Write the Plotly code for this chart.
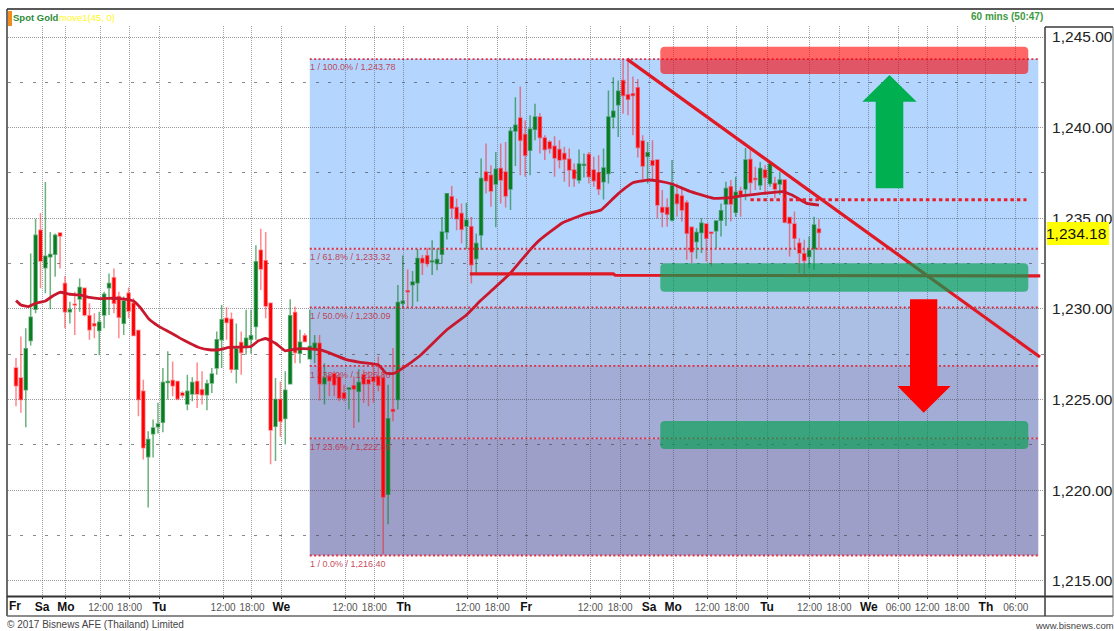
import plotly.graph_objects as go

direction = list("rrgggrgggr" "rgrgrrrggg" "rrgrrrrggg" "ggrrrggrrg" "gggrrgrggg"
                 "rrrgrggrgr" "ggrgrrrrgr" "grrrrrgrgg" "rggrrggggr" "rrgrggrrgr"
                 "rggrrggrrr" "rrrrrggrrr" "ggggrrrrrg" "rrrrgrrrrg" "grrgggrgrg"
                 "rrgrgrgrrr" "rrggr")
body_top = [1226.74,1226.19,1227.80,1229.54,1234.07,1234.34,1232.91,1233.00,1234.07,1234.19,
 1231.41,1229.95,1230.26,1231.19,1231.14,1229.63,1229.18,1229.27,1230.81,1231.41,
 1231.72,1230.68,1230.44,1230.86,1230.31,1228.81,1225.46,1222.80,1223.44,1223.66,
 1225.95,1226.00,1226.06,1226.00,1225.37,1225.46,1225.95,1226.00,1225.55,1225.88,
 1226.41,1228.30,1229.40,1229.49,1229.43,1227.80,1228.15,1228.39,1228.52,1232.60,
 1233.24,1232.66,1230.31,1225.00,1225.00,1225.51,1229.63,1229.80,1228.17,1228.52,
 1227.93,1228.11,1228.11,1226.19,1226.28,1226.43,1226.25,1225.37,1225.64,1225.77,
 1225.95,1226.37,1226.10,1226.25,1226.28,1226.19,1223.94,1224.45,1230.35,1230.42,
 1231.00,1231.48,1232.78,1232.78,1232.93,1232.64,1232.73,1234.25,1236.36,1236.19,
 1235.59,1235.26,1234.89,1234.54,1233.61,1237.20,1237.56,1237.38,1237.71,1237.75,
 1237.56,1239.80,1240.13,1240.53,1239.62,1239.91,1240.59,1240.59,1239.43,1239.21,
 1238.97,1238.79,1238.57,1238.26,1237.66,1237.99,1237.97,1238.52,1237.66,1237.51,
 1237.78,1240.59,1240.90,1242.01,1242.60,1241.81,1241.87,1242.20,1239.27,1238.61,
 1238.17,1238.21,1235.59,1235.59,1236.79,1236.32,1236.23,1235.86,1234.51,1234.21,
 1234.73,1234.69,1234.23,1234.85,1235.42,1236.65,1236.74,1236.43,1236.50,1238.21,
 1238.24,1237.20,1237.75,1237.66,1237.99,1236.92,1237.11,1237.11,1235.05,1234.69,
 1233.63,1233.04,1233.22,1234.63,1234.41]
body_bottom = [1225.77,1225.00,1225.55,1228.26,1229.98,1232.64,1232.27,1232.88,1233.02,1234.03,
 1229.85,1229.85,1230.22,1230.55,1229.67,1228.85,1229.08,1228.81,1229.67,1231.17,
 1230.31,1229.54,1229.21,1229.89,1228.53,1225.00,1222.34,1221.85,1223.11,1223.50,
 1223.75,1225.95,1225.77,1225.04,1225.24,1224.76,1225.31,1225.31,1225.27,1225.27,
 1225.92,1226.74,1228.30,1229.25,1226.68,1226.68,1227.60,1227.93,1228.33,1229.03,
 1232.20,1230.16,1223.32,1223.53,1223.81,1223.96,1225.88,1227.60,1227.56,1228.20,
 1227.25,1227.84,1225.88,1225.88,1226.04,1225.82,1225.09,1225.07,1225.59,1225.59,
 1225.46,1225.86,1225.88,1226.01,1225.79,1219.63,1219.78,1224.36,1225.00,1230.31,
 1230.95,1231.34,1231.45,1232.55,1232.51,1232.60,1232.51,1233.02,1234.25,1235.55,
 1234.98,1234.40,1234.58,1232.44,1232.78,1234.08,1237.07,1236.50,1236.89,1237.11,
 1236.23,1236.61,1239.82,1239.30,1238.48,1238.75,1239.91,1239.45,1238.79,1238.85,
 1238.33,1238.21,1238.26,1237.66,1237.20,1237.11,1237.93,1237.29,1237.07,1236.61,
 1237.01,1237.47,1240.59,1241.26,1241.78,1241.56,1241.78,1238.90,1237.89,1238.42,
 1237.93,1235.73,1235.33,1235.22,1234.91,1235.82,1235.46,1234.18,1233.15,1233.72,
 1234.21,1233.90,1234.18,1234.32,1234.89,1235.79,1235.79,1235.33,1236.28,1236.61,
 1236.98,1237.14,1236.83,1237.25,1236.92,1236.61,1236.89,1234.78,1234.73,1233.90,
 1233.08,1232.67,1232.89,1233.32,1234.21]
highs = [1227.29,1228.48,1228.94,1233.06,1234.98,1235.29,1237.00,1234.25,1234.16,1234.20,
 1231.81,1230.40,1230.95,1231.68,1231.14,1230.31,1229.76,1229.85,1230.95,1231.96,
 1232.23,1230.95,1230.68,1231.19,1230.59,1228.85,1226.10,1223.26,1223.90,1224.82,
 1226.74,1227.66,1227.10,1226.00,1225.46,1226.37,1226.23,1227.05,1226.56,1226.10,
 1226.74,1228.75,1230.22,1230.09,1229.80,1229.20,1228.75,1229.95,1229.95,1233.52,
 1234.43,1234.25,1230.31,1226.19,1226.00,1226.56,1230.53,1230.13,1228.85,1228.66,
 1229.95,1228.57,1228.57,1227.01,1226.37,1226.56,1226.43,1225.82,1225.64,1226.28,
 1226.68,1226.65,1226.56,1227.01,1227.38,1226.74,1225.82,1227.84,1231.32,1232.95,
 1232.18,1232.10,1233.30,1232.97,1233.37,1233.79,1233.33,1235.07,1236.36,1236.78,
 1236.08,1235.81,1235.86,1235.07,1234.16,1238.30,1239.12,1237.93,1238.66,1239.12,
 1239.21,1240.04,1241.68,1242.27,1240.40,1240.68,1241.32,1240.81,1239.58,1239.30,
 1239.52,1239.30,1238.94,1238.85,1238.02,1238.79,1238.57,1238.66,1238.39,1238.48,
 1238.85,1242.05,1242.78,1242.60,1243.78,1243.78,1242.82,1242.69,1239.58,1239.21,
 1239.30,1238.21,1236.56,1236.10,1238.21,1236.92,1236.74,1236.00,1234.54,1234.45,
 1235.00,1234.73,1234.27,1234.89,1235.82,1237.01,1237.11,1237.29,1236.74,1238.88,
 1238.75,1237.84,1238.11,1237.93,1238.15,1237.29,1237.56,1237.11,1235.09,1235.37,
 1233.90,1233.81,1233.99,1235.09,1234.95]
lows = [1224.63,1224.27,1223.48,1227.99,1229.76,1231.14,1230.86,1229.98,1231.78,1232.23,
 1228.94,1229.20,1228.57,1229.85,1229.58,1228.30,1228.39,1227.44,1228.94,1229.67,
 1229.76,1228.39,1228.57,1229.49,1228.50,1224.08,1221.70,1219.05,1221.80,1223.13,
 1223.20,1225.00,1225.18,1224.96,1225.09,1224.41,1224.91,1224.54,1224.73,1224.41,
 1225.37,1226.37,1226.74,1228.30,1226.47,1225.90,1226.37,1227.47,1227.53,1228.30,
 1231.04,1229.49,1221.43,1221.61,1222.95,1222.53,1225.88,1227.01,1227.01,1228.20,
 1227.25,1227.01,1224.95,1224.73,1225.18,1225.18,1224.91,1224.91,1224.45,1223.44,
 1223.75,1224.82,1224.63,1224.82,1225.46,1216.48,1218.13,1223.81,1224.45,1230.04,
 1230.04,1230.13,1230.40,1231.87,1232.33,1231.87,1232.14,1232.51,1233.83,1235.00,
 1234.34,1233.61,1233.30,1231.41,1231.96,1233.26,1236.37,1235.64,1234.50,1235.82,
 1235.59,1235.46,1237.89,1237.38,1237.29,1237.38,1239.30,1238.57,1238.21,1238.57,
 1237.29,1237.75,1237.01,1236.74,1236.74,1236.92,1237.25,1236.92,1236.74,1236.28,
 1236.04,1236.92,1239.95,1239.49,1240.77,1240.68,1239.58,1238.35,1237.11,1236.92,
 1237.11,1235.00,1234.51,1234.54,1234.82,1235.09,1234.82,1232.71,1232.53,1232.77,
 1233.08,1232.62,1232.34,1233.35,1233.99,1234.58,1234.82,1235.09,1235.09,1236.00,
 1236.37,1236.56,1236.56,1236.37,1236.74,1236.10,1236.28,1234.73,1232.89,1233.35,
 1231.98,1231.89,1232.25,1232.16,1233.26]

ma_bar = [0,1,2.5,4,6,7.5,9,11,13,15,17,20,22.5,24,25.5,27,29,31.5,33.5,35.5,37.5,39.5,41.5,43.5,48,49.5,
 51,53,55,57.5,60,62,65,67.5,70,74,75.5,77,79,82.5,88,92,95,97.5,101,105,107,111.5,116,119.5,122,123.5,
 126,129,131,134,137.5,142.5,146,148.5,152.5,156.5,158.5,161.5,164]
ma_value = [1230.46,1230.22,1230.13,1230.31,1230.44,1230.71,1230.92,1230.81,1230.77,1230.64,1230.57,1230.59,
 1230.53,1230.44,1230.04,1229.49,1229.07,1228.70,1228.39,1228.11,1227.86,1227.75,1227.75,1227.88,1227.93,
 1228.24,1228.37,1228.11,1227.69,1227.80,1227.80,1227.75,1227.47,1227.20,1227.07,1226.92,1226.47,1226.43,
 1226.74,1227.42,1228.85,1229.67,1230.49,1231.10,1231.98,1233.26,1233.81,1234.73,1235.22,1235.46,1236.10,
 1236.47,1236.96,1237.11,1237.07,1236.89,1236.50,1236.10,1236.14,1236.25,1236.37,1236.47,1236.28,1235.82,1235.73]

fib_prices = [1243.78, 1233.32, 1230.09, 1226.86, 1222.86, 1216.40]
fib_labels = ["1 / 100.0% / 1,243.78", "1 / 61.8% / 1,233.32", "1 / 50.0% / 1,230.09",
              "1 / 38.2% / 1,226.86", "1 / 23.6% / 1,222.86", "1 / 0.0% / 1,216.40"]
fib_fills = ["#B4D6FE", "#B5CDF0", "#AABFE3", "#A3ACD5", "#9E9FC8"]
fib_start_bar, fib_end_bar = 60.0, 208.8

trend_bar = [124.8, 209.15]
trend_price = [1243.78, 1227.35]
support_bar = [92.7, 122, 122.4, 209.2]
support_price = [1231.93, 1231.93, 1231.86, 1231.82]
resist_bar = [150, 206.4]
resist_price = [1236.02, 1236.02]

zone_bars = (131.6, 206.76)
zones = [(1244.46, 1242.96, "rgba(255,0,0,0.6)"),
         (1232.52, 1230.95, "rgba(0,160,80,0.65)"),
         (1223.82, 1222.27, "rgba(0,160,80,0.65)")]

DAY = '<span style="font-size:12px;color:#111111"><b>%s</b></span>'
grid_bars = [5.33, 10.2, 17.3, 23.2, 29.3, 42.3, 48.2, 54.2, 67.2, 73.2, 79.2, 92.3, 98.3, 104.2,
             117.3, 123.4, 129.3, 134.2, 141.2, 147.2, 153.4, 162.1, 168.1, 174.2, 180.2, 186.1, 192.2, 198.1, 204.2]
grid_labels = [DAY % "Sa", DAY % "Mo", "12:00", "18:00", DAY % "Tu", "12:00", "18:00", DAY % "We",
               "12:00", "18:00", DAY % "Th", "12:00", "18:00", DAY % "Fr", "12:00", "18:00", DAY % "Sa",
               DAY % "Mo", "12:00", "18:00", DAY % "Tu", "12:00", "18:00", DAY % "We", "06:00", "12:00",
               "18:00", DAY % "Th", "06:00"]
price_ticks = [1215, 1220, 1225, 1230, 1235, 1240, 1245]
minor_ticks = [1217.5, 1222.5, 1227.5, 1232.5, 1237.5, 1242.5]
last_price = "1,234.18"

# Page geometry of the chart panel
L, R, T, B = 8, 1044, 26, 596
W, H = 1114, 631
BAR_PX, BAR0_PX = 4.896, 16.0
PX_PRICE, PRICE_AT_T = 18.13, 1245 + (37 - 26) / 18.13


def fx(px):
    return (px - L) / (R - L)


def fy(py):
    return (B - py) / (B - T)


def bar_at(px):
    return (px - BAR0_PX) / BAR_PX


def price_at(py):
    return PRICE_AT_T - (py - T) / PX_PRICE


ix = list(range(len(direction)))
opens = [b if d == "g" else t for d, t, b in zip(direction, body_top, body_bottom)]
closes = [t if d == "g" else b for d, t, b in zip(direction, body_top, body_bottom)]

fig = go.Figure()
fig.add_trace(go.Candlestick(
    x=ix, open=opens, high=highs, low=lows, close=closes, name="Spot Gold", showlegend=False,
    whiskerwidth=0, hoverinfo="skip",
    increasing=dict(line=dict(color="rgba(10,125,40,0.6)", width=1.5), fillcolor="#0A7D1E"),
    decreasing=dict(line=dict(color="rgba(255,20,30,0.5)", width=1.5), fillcolor="#FF0000"),
))
fig.add_trace(go.Scatter(x=ma_bar, y=ma_value, mode="lines", line=dict(color="#C9182E", width=2.8, shape="spline", smoothing=0.3),
                         showlegend=False, hoverinfo="skip", name="move1(45, 0)"))
fig.add_trace(go.Scatter(x=trend_bar, y=trend_price, mode="lines", line=dict(color="#E01A24", width=3.2),
                         showlegend=False, hoverinfo="skip"))
fig.add_trace(go.Scatter(x=support_bar, y=support_price, mode="lines", line=dict(color="#E01A24", width=3.2),
                         showlegend=False, hoverinfo="skip"))
fig.add_trace(go.Scatter(x=resist_bar, y=resist_price, mode="lines", line=dict(color="#E8202C", width=3, dash="3.5px,3px"),
                         showlegend=False, hoverinfo="skip"))

shapes = []
for i, col in enumerate(fib_fills):
    shapes.append(dict(type="rect", layer="below", xref="x", yref="y", x0=fib_start_bar, x1=fib_end_bar,
                       y0=fib_prices[i], y1=fib_prices[i + 1], fillcolor=col, line=dict(width=0)))
for p in fib_prices:
    shapes.append(dict(type="line", layer="above", xref="x", yref="y", x0=fib_start_bar, x1=fib_end_bar, y0=p, y1=p,
                       line=dict(color="rgba(225,30,50,0.9)", width=1.8, dash="2px,2.4px")))


def rounded(x0, x1, y_top, y_bot, r_px=4.5):
    rx, ry = r_px / BAR_PX, r_px / PX_PRICE
    return (f"M {x0 + rx},{y_top} L {x1 - rx},{y_top} Q {x1},{y_top} {x1},{y_top - ry} "
            f"L {x1},{y_bot + ry} Q {x1},{y_bot} {x1 - rx},{y_bot} L {x0 + rx},{y_bot} "
            f"Q {x0},{y_bot} {x0},{y_bot + ry} L {x0},{y_top - ry} Q {x0},{y_top} {x0 + rx},{y_top} Z")


for top, bot, col in zones:
    shapes.append(dict(type="path", layer="above", xref="x", yref="y", path=rounded(zone_bars[0], zone_bars[1], top, bot),
                       fillcolor=col, line=dict(width=0)))


def poly(points_px):
    return "M " + " L ".join(f"{bar_at(x)},{price_at(y)}" for x, y in points_px) + " Z"


up_arrow = [(889.5, 75), (916.7, 101.7), (903.3, 101.7), (903.3, 188.3), (875.7, 188.3), (875.7, 101.7), (862.3, 101.7)]
down_arrow = [(910, 299.3), (937.3, 299.3), (937.3, 386), (950.7, 386), (923.7, 412.7), (897.3, 386), (910, 386)]
shapes.append(dict(type="path", layer="above", xref="x", yref="y", path=poly(up_arrow), fillcolor="#00B050", line=dict(width=0)))
shapes.append(dict(type="path", layer="above", xref="x", yref="y", path=poly(down_arrow), fillcolor="#FF0000", line=dict(width=0)))

# Frame and panels
FR = dict(color="#3A3A3A", width=1.5)


def pline(x0, y0, x1, y1, line):
    shapes.append(dict(type="line", xref="paper", yref="paper", x0=fx(x0), x1=fx(x1), y0=fy(y0), y1=fy(y1), line=line, layer="above"))


pline(7, 9, 1114, 9, dict(color="#222", width=1.5))
pline(7, 9, 7, 616, FR)
pline(7, 596.5, 1113, 596.5, dict(color="#333", width=2))
pline(7, 616, 1113, 616, dict(color="#666", width=1.5))
pline(1045, 27, 1045, 616, FR)
pline(1045, 27, 1113, 27, FR)
pline(1113, 27, 1113, 616, dict(color="#666", width=1))
shapes.append(dict(type="rect", xref="paper", yref="paper", x0=fx(8), x1=fx(12), y0=fy(11), y1=fy(26),
                   fillcolor="#F28C1E", line=dict(width=0), layer="above"))
shapes.append(dict(type="rect", xref="paper", yref="paper", x0=fx(1047), x1=fx(1109), y0=fy(222), y1=fy(245),
                   fillcolor="#FFFF00", line=dict(width=0), layer="above"))

SANS = "Liberation Sans, Arial, sans-serif"
anns = []


def note(px, py, text, size, color, anchor="left", family=SANS):
    anns.append(dict(xref="paper", yref="paper", x=fx(px), y=fy(py), text=text, showarrow=False, xanchor=anchor,
                     yanchor="middle", font=dict(size=size, color=color, family=family), borderpad=0, borderwidth=0))


fib_label_py = [67, 257, 316, 375, 447, 564]
for py, txt in zip(fib_label_py, fib_labels):
    note(310, py, txt, 9, "rgba(190,50,70,0.9)")
note(13, 18, "<b>Spot Gold</b>", 9.5, "#2E8B3A")
note(59, 18, "move1(45, 0)", 9.5, "#FFF820")
note(1043, 17, "<b>60 mins (50:47)</b>", 10, "#3E9A3E", anchor="right")
note(1046, 233.5, last_price, 15.5, "#111111")
note(9, 606, "<b>Fr</b>", 12, "#111111")
note(7, 624, "© 2017 Bisnews AFE (Thailand) Limited", 10, "#444444")
note(1114, 625, "www.bisnews.com", 9.5, "#444444", anchor="right")

fig.update_layout(
    width=W, height=H, margin=dict(l=L, r=W - R, t=T, b=H - B, autoexpand=False),
    paper_bgcolor="white", plot_bgcolor="white", showlegend=False, boxgap=0.14,
    font=dict(family=SANS, color="#333333"),
    shapes=shapes, annotations=anns,
    xaxis=dict(type="linear", range=[bar_at(L), bar_at(R)], rangeslider=dict(visible=False),
               tickmode="array", tickvals=grid_bars, ticktext=grid_labels,
               tickfont=dict(size=10, color="#555555", family=SANS), tickangle=0,
               ticks="outside", ticklen=2, tickcolor="#333333",
               showgrid=True, gridcolor="rgba(70,70,80,0.5)", griddash="1px,1px", gridwidth=1,
               showline=False, zeroline=False),
    yaxis=dict(range=[price_at(B), price_at(T)], side="right", tickmode="array", tickvals=price_ticks,
               tickformat=",.2f", tickfont=dict(size=15.5, color="#222222", family=SANS),
               ticks="outside", ticklen=4, tickcolor="rgba(0,0,0,0)",
               showgrid=True, gridcolor="rgba(70,70,80,0.55)", griddash="1px,1px", gridwidth=1,
               showline=False, zeroline=False,
               minor=dict(tickmode="array", tickvals=minor_ticks, showgrid=True, griddash="3px,9.3px",
                          gridcolor="rgba(70,70,80,0.65)", gridwidth=1, ticks="")),
)

fig.write_html("out.html", config=dict(displayModeBar=False),
               post_script="document.body.style.margin='0';document.body.style.overflow='hidden';")
